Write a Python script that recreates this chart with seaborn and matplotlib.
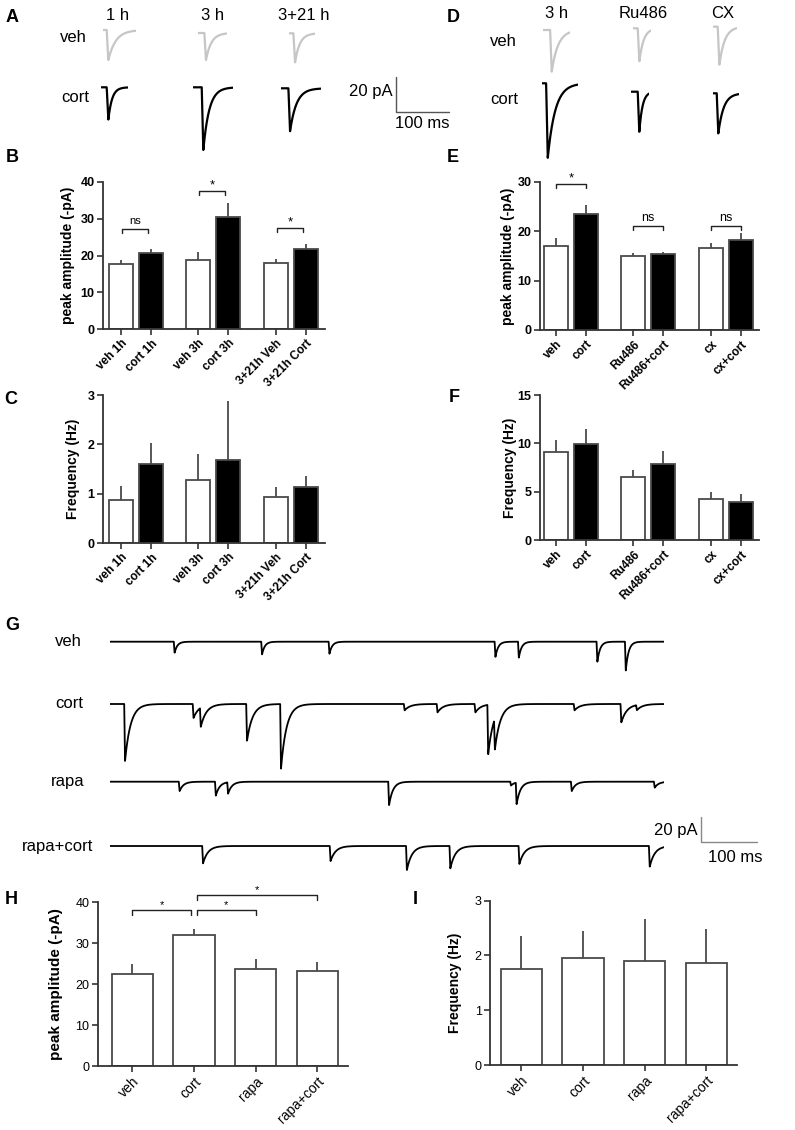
import numpy as np
import pandas as pd
import matplotlib
matplotlib.use('Agg')
import matplotlib.pyplot as plt
import seaborn as sns

# ---------------- data ----------------
# B / C : time course (veh / cort at 1 h, 3 h, 3+21 h)
time_labels = ['veh 1h', 'cort 1h', 'veh 3h', 'cort 3h', '3+21h Veh', '3+21h Cort']
time_fill = ['veh', 'cort', 'veh', 'cort', 'veh', 'cort']
amp_time = [17.6, 20.6, 18.7, 30.5, 18.0, 21.9]
amp_time_sem = [1.2, 1.3, 2.3, 3.9, 1.1, 1.1]
freq_time = [0.88, 1.61, 1.27, 1.68, 0.94, 1.14]
freq_time_sem = [0.27, 0.41, 0.53, 1.20, 0.20, 0.21]
# significance brackets: (bar i, bar j, height, text)
sig_amp_time = [(0, 1, 27.3, 'ns'), (2, 3, 37.6, '*'), (4, 5, 27.6, '*')]

# E / F : receptor blockers
drug_labels = ['veh', 'cort', 'Ru486', 'Ru486+cort', 'cx', 'cx+cort']
drug_fill = ['veh', 'cort', 'veh', 'cort', 'veh', 'cort']
amp_drug = [17.0, 23.6, 14.9, 15.4, 16.7, 18.3]
amp_drug_sem = [1.6, 1.8, 0.7, 0.5, 0.9, 1.3]
freq_drug = [9.06, 9.92, 6.56, 7.90, 4.19, 3.88]
freq_drug_sem = [1.24, 1.60, 0.65, 1.30, 0.82, 0.93]
sig_amp_drug = [(0, 1, 29.65, '*'), (2, 3, 21.1, 'ns'), (4, 5, 21.1, 'ns')]

# H / I : rapamycin
rapa_labels = ['veh', 'cort', 'rapa', 'rapa+cort']
amp_rapa = [22.6, 32.0, 23.7, 23.3]
amp_rapa_sem = [2.4, 1.4, 2.5, 2.1]
freq_rapa = [1.75, 1.95, 1.89, 1.86]
freq_rapa_sem = [0.61, 0.49, 0.78, 0.62]

# A / D : averaged EPSCs (peak time ms, amplitude pA, decay tau ms, window ms)
A_titles = ['1 h', '3 h', '3+21 h']
A_veh_peak = [9.4, 14.4, 10.7]
A_veh_amp = [17.0, 15.3, 16.6]
A_veh_tau = [14, 10, 9]
A_veh_len = [62, 53, 48]
A_cort_peak = [13.7, 18.8, 16.9]
A_cort_amp = [18.5, 35.5, 24.5]
A_cort_tau = [7, 11, 12]
A_cort_len = [51, 75, 75]

D_titles = ['3 h', 'Ru486', 'CX']
D_veh_peak = [15.8, 11.3, 11.3]
D_veh_amp = [23.6, 18.9, 21.7]
D_veh_tau = [12, 8, 10]
D_veh_len = [51, 33, 44]
D_cort_peak = [11.3, 15.6, 9.4]
D_cort_amp = [42.5, 22.7, 22.7]
D_cort_tau = [14, 6, 10]
D_cort_len = [69, 34, 49]

# G : 1 s raw traces, events as (time ms, amplitude pA)
G_rows = ['veh', 'cort', 'rapa', 'rapa+cort']
veh_ev_t = [116, 273, 394, 692, 734, 875, 926]
veh_ev_a = [8.7, 10, 9.5, 12, 12.6, 15.8, 22.7]
cort_ev_t = [27, 150, 163, 246, 307, 529, 588, 656, 679, 691, 834, 918, 946]
cort_ev_a = [45, 11, 15, 29, 51, 5, 6.6, 6.6, 39, 24, 5, 14.5, 4]
rapa_ev_t = [125, 190, 212, 501, 720, 730, 829, 978]
rapa_ev_a = [7.4, 11, 9, 18.5, 3, 17, 7.4, 4.7]
rapacort_ev_t = [167, 396, 533, 611, 735, 969]
rapacort_ev_a = [13.7, 11.9, 19, 17.7, 14.2, 16.3]
G_tau = [5, 10, 7, 9]

# ---------------- style ----------------
sns.set_style('ticks')
plt.rcParams['font.family'] = ['Liberation Sans', 'DejaVu Sans']
plt.rcParams['text.color'] = 'black'
plt.rcParams['axes.labelcolor'] = 'black'
plt.rcParams['xtick.color'] = 'black'
plt.rcParams['ytick.color'] = 'black'
EDGE = '#4a4a4a'
SPINE = '#333333'
FILL = {'veh': 'white', 'cort': 'black'}
VEH_GREY = '#c6c6c6'

W, H = 795, 1130
fig = plt.figure(figsize=(7.95, 11.3), dpi=100)


def px_axes(x0, y0, x1, y1):
    return fig.add_axes([x0 / W, 1 - y1 / H, (x1 - x0) / W, (y1 - y0) / H])


def ftext(x, y, s, **kw):
    fig.text(x / W, 1 - y / H, s, **kw)


def epsc_sum(t, peaks, amps, tau, rise):
    y = np.zeros_like(t)
    for tp, a in zip(peaks, amps):
        s = t - (tp - rise)
        y += np.where(s < 0, 0.0,
                      np.where(s < rise, -a * s / rise,
                               -a * np.exp(-np.clip(s - rise, 0, None) / tau)))
    return y


def trace_ax(x0, y_base, length_ms, depth, ppm, ppa, top=3):
    ax = px_axes(x0, y_base - top * ppa, x0 + length_ms * ppm, y_base + depth * ppa)
    ax.set_xlim(0, length_ms)
    ax.set_ylim(-depth, top)
    ax.axis('off')
    return ax


def bar_panel(box, pos, labels, means, sems, fills, ymax, ystep, ylabel,
              xlim, width, bold, label_x, ylab_size, xt_size):
    ax = px_axes(*box)
    df = pd.DataFrame({'pos': pos, 'mean': means, 'fill': fills})
    sns.barplot(data=df, x='pos', y='mean', hue='fill', palette=FILL,
                native_scale=True, width=width, errorbar=None, edgecolor=EDGE,
                linewidth=1.3, dodge=False, legend=False, ax=ax)
    ax.errorbar(pos, means, yerr=[np.zeros(len(means)), sems], fmt='none',
                ecolor=EDGE, elinewidth=1.3, capsize=0)
    ax.set_xlim(*xlim)
    ax.set_ylim(0, ymax)
    ax.set_yticks(np.arange(0, ymax + 1e-6, ystep))
    ax.set_xticks(pos)
    ax.set_xticklabels(labels, rotation=45, ha='right', rotation_mode='anchor',
                       fontsize=xt_size, fontweight='bold' if bold else 'normal')
    for lab in ax.get_yticklabels():
        lab.set_fontsize(9)
        lab.set_fontweight('bold' if bold else 'normal')
    ax.set_xlabel('')
    ax.set_ylabel(ylabel, fontsize=ylab_size, fontweight='bold')
    ax.yaxis.set_label_coords(label_x, 0.5)
    sns.despine(ax=ax)
    for s in ['left', 'bottom']:
        ax.spines[s].set_linewidth(1.3)
        ax.spines[s].set_color(SPINE)
    ax.tick_params(length=4, width=1.2, color=SPINE, pad=2)
    return ax


def bracket(ax, x1, x2, y, drop, text, size, off):
    ax.plot([x1, x1, x2, x2], [y - drop, y, y, y - drop], color='#222222',
            lw=1.0, clip_on=False)
    ax.annotate(text, xy=((x1 + x2) / 2, y), xytext=(0, off),
                textcoords='offset points', ha='center', va='baseline',
                fontsize=size, annotation_clip=False)


grouped_pos = [0, 1, 2.58, 3.58, 5.17, 6.17]
four_pos = [0, 1, 2, 3]

# ---------------- A ----------------
ppm_A, ppa_A = 0.533, 1.765
A_veh_x0 = [103.3, 198.3, 289.3]
A_veh_base = [30, 33, 33.3]
A_cort_x0 = [101, 193.3, 281]
A_cort_base = [87.3, 87.3, 88.3]
A_title_x = [118, 213, 304]
for i in range(3):
    ftext(A_title_x[i], 15, A_titles[i], fontsize=12, ha='center', va='center')
    t = np.arange(0, A_veh_len[i], 0.2)
    ax = trace_ax(A_veh_x0[i], A_veh_base[i], A_veh_len[i], 40, ppm_A, ppa_A)
    ax.plot(t, epsc_sum(t, [A_veh_peak[i]], [A_veh_amp[i]], A_veh_tau[i], 3),
            color=VEH_GREY, lw=1.6)
    t = np.arange(0, A_cort_len[i], 0.2)
    ax = trace_ax(A_cort_x0[i], A_cort_base[i], A_cort_len[i], 40, ppm_A, ppa_A)
    ax.plot(t, epsc_sum(t, [A_cort_peak[i]], [A_cort_amp[i]], A_cort_tau[i], 3),
            color='black', lw=1.6)
ftext(73, 37, 'veh', fontsize=12, ha='center', va='center')
ftext(75, 97, 'cort', fontsize=12, ha='center', va='center')

# A scale bar (20 pA / 100 ms)
ax = trace_ax(396, 112, 100, 0.5, ppm_A, ppa_A, top=20)
ax.plot([0, 0, 100], [20, 0, 0], color='#555555', lw=1.0, clip_on=False)
ftext(393, 91.5, '20 pA', fontsize=12, ha='right', va='center')
ftext(422, 123, '100 ms', fontsize=12, ha='center', va='center')

# ---------------- D ----------------
D_veh_x0 = [543.3, 633.3, 713.3]
D_veh_base = [30, 28.3, 26.7]
D_cort_x0 = [541.7, 631, 713.3]
D_cort_base = [83.3, 91.7, 93.3]
D_title_x = [557, 643, 723]
for i in range(3):
    ftext(D_title_x[i], 13.5, D_titles[i], fontsize=12, ha='center', va='center')
    t = np.arange(0, D_veh_len[i], 0.2)
    ax = trace_ax(D_veh_x0[i], D_veh_base[i], D_veh_len[i], 45, ppm_A, ppa_A)
    ax.plot(t, epsc_sum(t, [D_veh_peak[i]], [D_veh_amp[i]], D_veh_tau[i], 3),
            color=VEH_GREY, lw=1.6)
    t = np.arange(0, D_cort_len[i], 0.2)
    ax = trace_ax(D_cort_x0[i], D_cort_base[i], D_cort_len[i], 45, ppm_A, ppa_A)
    ax.plot(t, epsc_sum(t, [D_cort_peak[i]], [D_cort_amp[i]], D_cort_tau[i], 3),
            color='black', lw=1.6)
ftext(503, 42, 'veh', fontsize=12, ha='center', va='center')
ftext(504, 99, 'cort', fontsize=12, ha='center', va='center')

# ---------------- B ----------------
ax = bar_panel((103, 182, 325, 329), grouped_pos, time_labels, amp_time, amp_time_sem,
               time_fill, 40, 10, 'peak amplitude (-pA)', (-0.6, 6.8), 0.8, True,
               -0.126, 10, 8.5)
for i, j, y, s in sig_amp_time:
    bracket(ax, grouped_pos[i] + 0.03, grouped_pos[j] - 0.1, y, 1.1, s,
            8 if s == 'ns' else 9.5, 3.5 if s == 'ns' else 1.5)

# ---------------- C ----------------
bar_panel((103, 395, 325, 543), grouped_pos, time_labels, freq_time, freq_time_sem,
          time_fill, 3, 1, 'Frequency (Hz)', (-0.6, 6.8), 0.8, True, -0.104, 10, 8.5)

# ---------------- E ----------------
ax = bar_panel((540, 182, 759, 330), grouped_pos, drug_labels, amp_drug, amp_drug_sem,
               drug_fill, 30, 10, 'peak amplitude (-pA)', (-0.53, 6.77), 0.8, True,
               -0.114, 10, 8.5)
for i, j, y, s in sig_amp_drug:
    bracket(ax, grouped_pos[i], grouped_pos[j], y, 0.85, s,
            9 if s == 'ns' else 9.5, 3.5 if s == 'ns' else 1.5)

# ---------------- F ----------------
bar_panel((540, 395, 759, 540), grouped_pos, drug_labels, freq_drug, freq_drug_sem,
          drug_fill, 15, 5, 'Frequency (Hz)', (-0.53, 6.77), 0.8, True, -0.104, 10, 8.5)

# ---------------- G ----------------
ppm_G, ppa_G = 0.557, 1.265
G_base = [641.7, 704, 781.7, 846]
G_label_x = [68, 69, 68, 58]
G_events = [(veh_ev_t, veh_ev_a), (cort_ev_t, cort_ev_a),
            (rapa_ev_t, rapa_ev_a), (rapacort_ev_t, rapacort_ev_a)]
t = np.arange(0, 995, 0.25)
for k in range(4):
    ax = trace_ax(110, G_base[k], 995, 60, ppm_G, ppa_G)
    ev_t, ev_a = G_events[k]
    ax.plot(t, epsc_sum(t, ev_t, ev_a, G_tau[k], 1.5), color='black', lw=1.3)
    ftext(G_label_x[k], G_base[k], G_rows[k], fontsize=12, ha='center', va='center')
ax = trace_ax(701, 842.3, 100, 0.5, ppm_G, ppa_G, top=20)
ax.plot([0, 0, 100], [20, 0, 0], color='#888888', lw=1.0, clip_on=False)
ftext(698, 830, '20 pA', fontsize=12, ha='right', va='center')
ftext(735, 858, '100 ms', fontsize=12, ha='center', va='center')

# ---------------- H ----------------
ax = bar_panel((97.7, 902.3, 348, 1066.3), four_pos, rapa_labels, amp_rapa, amp_rapa_sem,
               ['veh'] * 4, 40, 10, 'peak amplitude (-pA)', (-0.565, 3.5), 0.67, False,
               -0.137, 11, 10)
bracket(ax, 0, 0.95, 38.2, 1.3, '*', 8, 1.5)
bracket(ax, 1.04, 2.0, 38.2, 1.3, '*', 8, 1.5)
bracket(ax, 1.04, 2.99, 41.8, 1.2, '*', 8, 1.5)

# ---------------- I ----------------
bar_panel((490, 900.7, 737.3, 1065), four_pos, rapa_labels, freq_rapa, freq_rapa_sem,
          ['veh'] * 4, 3, 1, 'Frequency (Hz)', (-0.51, 3.5), 0.67, False,
          -0.114, 10, 10)

# ---------------- panel letters ----------------
for letter, x, y in [('A', 12, 17), ('B', 12, 158), ('C', 11, 399), ('D', 453, 17),
                     ('E', 453, 158), ('F', 454, 398), ('G', 12, 625),
                     ('H', 11, 900), ('I', 415, 900)]:
    ftext(x, y, letter, fontsize=13, fontweight='bold', ha='center', va='center')

fig.savefig('out.png', dpi=100, facecolor='white')
